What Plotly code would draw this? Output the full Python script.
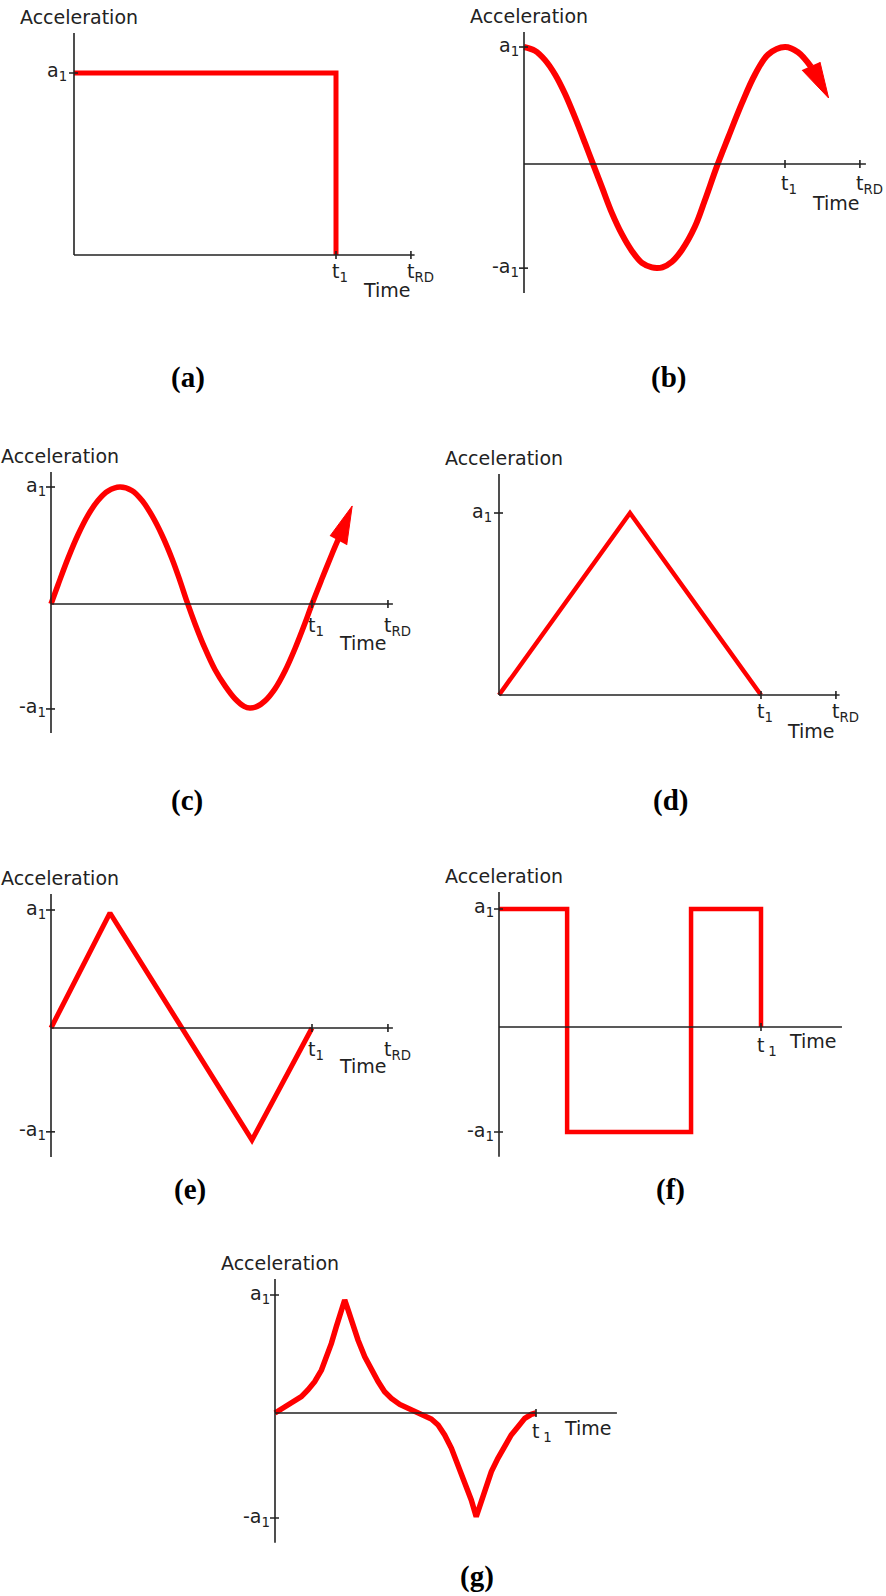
import plotly.graph_objects as go

# ---- waveforms: time in units of t1, acceleration in units of a1 ----
# (a) rectangular pulse
A_T = [0.0, 1.0, 1.0]
A_ACC = [1.0, 1.0, 0.0]

# (b) cosine-shaped record, continuing past t1 into an arrow
B_T = [0.0, 0.042, 0.080, 0.119, 0.157, 0.195, 0.234, 0.261, 0.299, 0.337, 0.375,
       0.414, 0.452, 0.490, 0.510, 0.530, 0.567, 0.605, 0.655, 0.693, 0.739, 0.782,
       0.835, 0.885, 0.935, 1.0, 1.050, 1.100]
B_ACC = [1.0, 0.968, 0.89, 0.765, 0.60, 0.40, 0.178, 0.02, -0.20, -0.42, -0.60,
         -0.745, -0.845, -0.884, -0.889, -0.883, -0.835, -0.735, -0.535, -0.31, -0.02, 0.225,
         0.52, 0.765, 0.935, 1.0, 0.955, 0.83]
B_HEAD_T = [1.065, 1.167, 1.134]
B_HEAD_ACC = [0.803, 0.564, 0.872]

# (c) sine-shaped record, continuing past t1 into an arrow
C_T = [0.0, 0.027, 0.065, 0.103, 0.142, 0.180, 0.218, 0.264, 0.310, 0.349, 0.387,
       0.425, 0.464, 0.494, 0.521, 0.552, 0.590, 0.628, 0.667, 0.705, 0.740, 0.762,
       0.790, 0.820, 0.858, 0.897, 0.935, 0.973, 1.0, 1.038, 1.077, 1.100]
C_ACC = [0.0, 0.165, 0.39, 0.59, 0.76, 0.885, 0.965, 1.0, 0.97, 0.885, 0.755,
         0.59, 0.385, 0.20, 0.02, -0.17, -0.38, -0.56, -0.70, -0.81, -0.875, -0.889,
         -0.875, -0.828, -0.725, -0.57, -0.38, -0.165, 0.0, 0.215, 0.43, 0.55]
C_HEAD_T = [1.069, 1.154, 1.133]
C_HEAD_ACC = [0.581, 0.838, 0.504]

# (d) symmetric triangular pulse
D_T = [0.0, 0.5, 1.0]
D_ACC = [0.0, 1.0, 0.0]

# (e) full-cycle triangular wave
E_T = [0.0, 0.226, 0.770, 1.0]
E_ACC = [0.0, 0.975, -0.95, 0.0]

# (f) square wave
F_T = [0.0, 0.26, 0.26, 0.733, 0.733, 1.0, 1.0]
F_ACC = [1.0, 1.0, -0.89, -0.89, 1.0, 1.0, 0.0]

# (g) double-cusp record
G_T = [0.0, 0.024, 0.050, 0.075, 0.101, 0.126, 0.152, 0.178, 0.197, 0.216, 0.235,
       0.252, 0.267, 0.280, 0.299, 0.318, 0.344, 0.369, 0.395, 0.420, 0.446, 0.478,
       0.510, 0.548, 0.573, 0.599, 0.625, 0.650, 0.676, 0.701, 0.727, 0.752, 0.771,
       0.791, 0.810, 0.829, 0.854, 0.880, 0.905, 0.931, 0.957, 0.982, 1.0]
G_ACC = [0.0, 0.034, 0.062, 0.096, 0.138, 0.195, 0.266, 0.364, 0.463, 0.590, 0.732,
         0.845, 0.958, 0.873, 0.732, 0.619, 0.477, 0.364, 0.266, 0.181, 0.124, 0.073,
         0.040, 0.011, -0.017, -0.051, -0.102, -0.186, -0.299, -0.441, -0.582, -0.737, -0.879,
         -0.751, -0.610, -0.497, -0.384, -0.271, -0.186, -0.116, -0.045, -0.011, 0.0]

# ---- tick positions and labels ----
T1 = "t<sub>1</sub>"
TRD = "t<sub>RD</sub>"
T1_SPACED = "t\u2009<sub>1</sub>"
A1 = "a<sub>1</sub>"
NEG_A1 = "-a<sub>1</sub>"

A_XTICKS, A_XLABELS = [1.0, 1.286], [T1, TRD]
A_YTICKS, A_YLABELS = [1.0], [A1]
B_XTICKS, B_XLABELS = [1.0, 1.287], [T1, TRD]
B_YTICKS, B_YLABELS = [1.0, -0.89], [A1, NEG_A1]
C_XTICKS, C_XLABELS = [1.0, 1.291], [T1, TRD]
C_YTICKS, C_YLABELS = [1.0, -0.897], [A1, NEG_A1]
D_XTICKS, D_XLABELS = [1.0, 1.286], [T1, TRD]
D_YTICKS, D_YLABELS = [1.0], [A1]
E_XTICKS, E_XLABELS = [1.0, 1.291], [T1, TRD]
E_YTICKS, E_YLABELS = [1.0, -0.88], [A1, NEG_A1]
F_XTICKS, F_XLABELS = [1.0], [T1_SPACED]
F_YTICKS, F_YLABELS = [1.0, -0.89], [A1, NEG_A1]
G_XTICKS, G_XLABELS = [1.0], [T1_SPACED]
G_YTICKS, G_YLABELS = [1.0, -0.89], [A1, NEG_A1]

# ---- page geometry and styling ----
W, H = 886, 1596
RED = "#ff0000"
INK = "#222222"
LABEL_FONT = dict(family="DejaVu Sans", size=19, color=INK)
LETTER_FONT = dict(family="Liberation Serif", size=29, color="#000000")

panels = [
    dict(letter="(a)", t=A_T, acc=A_ACC, head=None, shape="linear", lw=5,
         xt=A_XTICKS, xl=A_XLABELS, yt=A_YTICKS, yl=A_YLABELS,
         ox=74, oy=255, sx=262, sy=182, xend=1.30, ytop=1.22, ybot=0.0,
         tick_dy=8, time_x=1.286, time_dx=1, time_dy=27, ylab_dx=-5, acc_dx=5,
         pos=(188, 378)),
    dict(letter="(b)", t=B_T, acc=B_ACC, head=(B_HEAD_T, B_HEAD_ACC), shape="spline", lw=6,
         xt=B_XTICKS, xl=B_XLABELS, yt=B_YTICKS, yl=B_YLABELS,
         ox=524, oy=164, sx=261, sy=117, xend=1.31, ytop=1.128, ybot=-1.103,
         tick_dy=11, time_x=1.287, time_dx=1, time_dy=31, ylab_dx=-3, acc_dx=5,
         pos=(668, 378)),
    dict(letter="(c)", t=C_T, acc=C_ACC, head=(C_HEAD_T, C_HEAD_ACC), shape="spline", lw=5.5,
         xt=C_XTICKS, xl=C_XLABELS, yt=C_YTICKS, yl=C_YLABELS,
         ox=51, oy=604, sx=261, sy=117, xend=1.31, ytop=1.128, ybot=-1.103,
         tick_dy=13, time_x=1.291, time_dx=0, time_dy=31, ylab_dx=-3, acc_dx=9,
         pos=(187, 800)),
    dict(letter="(d)", t=D_T, acc=D_ACC, head=None, shape="linear", lw=4.5,
         xt=D_XTICKS, xl=D_XLABELS, yt=D_YTICKS, yl=D_YLABELS,
         ox=499, oy=695, sx=262, sy=182, xend=1.30, ytop=1.214, ybot=0.0,
         tick_dy=8, time_x=1.286, time_dx=0, time_dy=28, ylab_dx=-5, acc_dx=5,
         pos=(670, 800)),
    dict(letter="(e)", t=E_T, acc=E_ACC, head=None, shape="linear", lw=5,
         xt=E_XTICKS, xl=E_XLABELS, yt=E_YTICKS, yl=E_YLABELS,
         ox=51, oy=1028, sx=261, sy=118, xend=1.31, ytop=1.136, ybot=-1.093,
         tick_dy=13, time_x=1.291, time_dx=0, time_dy=30, ylab_dx=-3, acc_dx=9,
         pos=(190, 1189)),
    dict(letter="(f)", t=F_T, acc=F_ACC, head=None, shape="linear", lw=4.5,
         xt=F_XTICKS, xl=F_XLABELS, yt=F_YTICKS, yl=F_YLABELS,
         ox=499, oy=1027, sx=262, sy=118, xend=1.309, ytop=1.144, ybot=-1.10,
         tick_dy=10, time_x=1.309, time_dx=-4, time_dy=6, ylab_dx=-3, acc_dx=5,
         pos=(670, 1189)),
    dict(letter="(g)", t=G_T, acc=G_ACC, head=None, shape="linear", lw=5.5,
         xt=G_XTICKS, xl=G_XLABELS, yt=G_YTICKS, yl=G_YLABELS,
         ox=275, oy=1413, sx=261, sy=118, xend=1.31, ytop=1.136, ybot=-1.10,
         tick_dy=10, time_x=1.31, time_dx=-4, time_dy=7, ylab_dx=-3, acc_dx=5,
         pos=(477, 1576)),
]

fig = go.Figure()
axes_layout = {}
shapes = []
annotations = []
axis_line = dict(color=INK, width=1.6)

for i, p in enumerate(panels, start=1):
    sfx = "" if i == 1 else str(i)
    xr, yr = "x" + sfx, "y" + sfx

    # map each panel's data units onto its spot on the page
    left = p["ox"] - 14
    right = p["ox"] + p["xend"] * p["sx"] + 8
    top = p["oy"] - p["ytop"] * p["sy"] - 6
    bottom = p["oy"] - p["ybot"] * p["sy"] + 6
    axes_layout["xaxis" + sfx] = dict(
        domain=[left / W, right / W],
        range=[(left - p["ox"]) / p["sx"], (right - p["ox"]) / p["sx"]],
        visible=False, fixedrange=True, anchor=yr)
    axes_layout["yaxis" + sfx] = dict(
        domain=[1 - bottom / H, 1 - top / H],
        range=[(p["oy"] - bottom) / p["sy"], (p["oy"] - top) / p["sy"]],
        visible=False, fixedrange=True, anchor=xr)

    # the acceleration record
    fig.add_trace(go.Scatter(
        x=p["t"], y=p["acc"], xaxis=xr, yaxis=yr, mode="lines",
        line=dict(color=RED, width=p["lw"], shape=p["shape"], smoothing=1.0),
        hoverinfo="skip", showlegend=False))
    if p["head"] is not None:
        ht, ha = p["head"]
        fig.add_trace(go.Scatter(
            x=ht, y=ha, xaxis=xr, yaxis=yr, mode="lines", fill="toself",
            fillcolor=RED, line=dict(color=RED, width=1),
            hoverinfo="skip", showlegend=False))

    # axes drawn through the origin
    shapes.append(dict(type="line", xref=xr, yref=yr, x0=0, x1=0,
                       y0=p["ybot"], y1=p["ytop"], line=axis_line, layer="above"))
    shapes.append(dict(type="line", xref=xr, yref=yr, x0=0, x1=p["xend"],
                       y0=0, y1=0, line=axis_line, layer="above"))

    # tick marks and labels
    for v, lbl in zip(p["yt"], p["yl"]):
        shapes.append(dict(type="line", xref=xr, yref=yr, xsizemode="pixel", xanchor=0,
                           x0=-5, x1=4, y0=v, y1=v, line=axis_line, layer="above"))
        annotations.append(dict(xref=xr, yref=yr, x=0, y=v, text=lbl, showarrow=False,
                                xanchor="right", yanchor="middle", xshift=p["ylab_dx"],
                                yshift=1, font=LABEL_FONT))
    for v, lbl in zip(p["xt"], p["xl"]):
        shapes.append(dict(type="line", xref=xr, yref=yr, ysizemode="pixel", yanchor=0,
                           y0=-4, y1=4, x0=v, x1=v, line=axis_line, layer="above"))
        annotations.append(dict(xref=xr, yref=yr, x=v, y=0, text=lbl, showarrow=False,
                                xanchor="left", yanchor="top", xshift=-6,
                                yshift=-(p["tick_dy"] - 5), font=LABEL_FONT))

    # axis titles
    annotations.append(dict(xref=xr, yref=yr, x=0, y=p["ytop"], text="Acceleration",
                            showarrow=False, xanchor="center", yanchor="bottom",
                            xshift=p["acc_dx"], yshift=3, font=LABEL_FONT))
    annotations.append(dict(xref=xr, yref=yr, x=p["time_x"], y=0, text="Time",
                            showarrow=False, xanchor="right", yanchor="top",
                            xshift=p["time_dx"] + 1, yshift=-(p["time_dy"] - 5),
                            font=LABEL_FONT))

    # panel letter
    cx, cy = p["pos"]
    annotations.append(dict(xref="paper", yref="paper", x=cx / W, y=1 - cy / H,
                            text="<b>" + p["letter"] + "</b>", showarrow=False,
                            xanchor="center", yanchor="middle", font=LETTER_FONT))

fig.update_layout(
    width=W, height=H, autosize=False,
    margin=dict(l=0, r=0, t=0, b=0, pad=0),
    paper_bgcolor="white", plot_bgcolor="white",
    showlegend=False, shapes=shapes, annotations=annotations,
    font=LABEL_FONT,
    **axes_layout,
)

fig.write_html("out.html", config=dict(displayModeBar=False, staticPlot=True))
